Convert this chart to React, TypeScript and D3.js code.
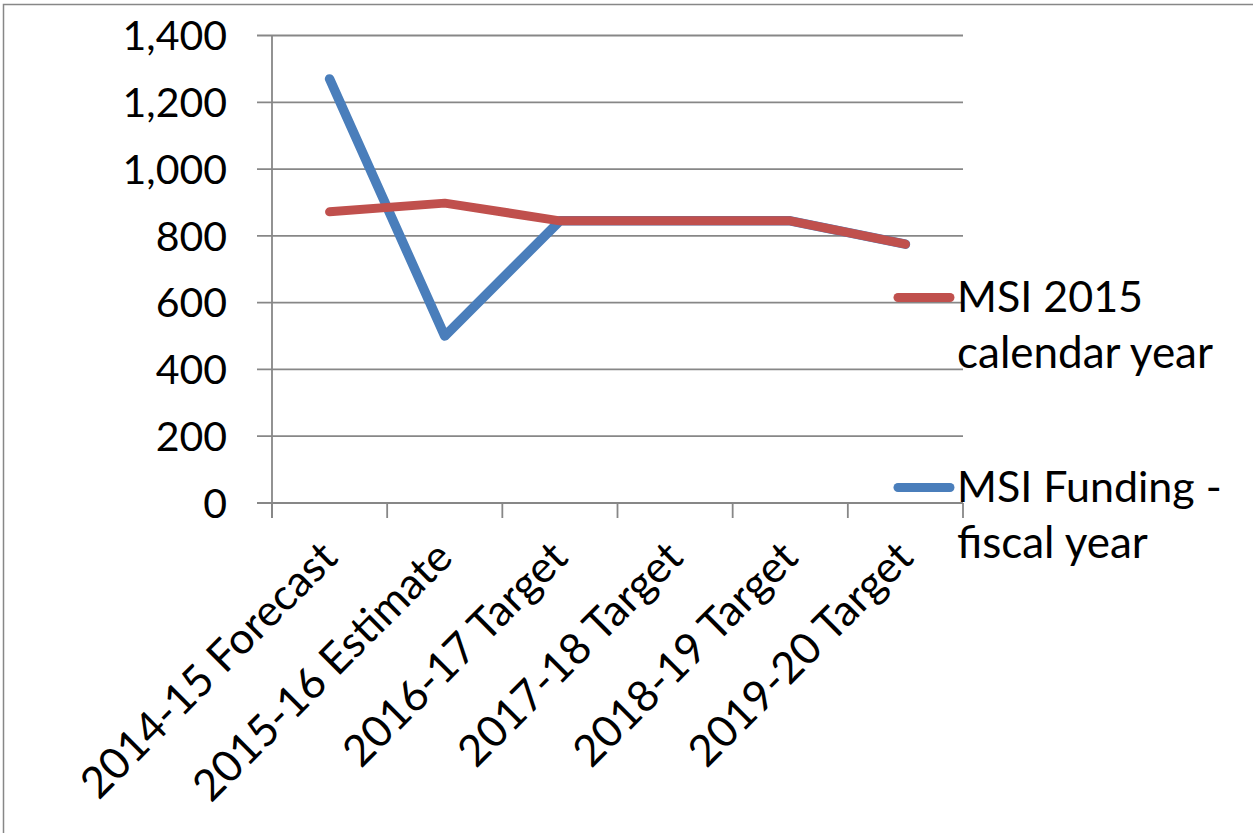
import React from "react";
import * as d3 from "d3";

const categories = [
  "2014-15 Forecast",
  "2015-16 Estimate",
  "2016-17 Target",
  "2017-18 Target",
  "2018-19 Target",
  "2019-20 Target",
];
const msiCalendar = [872, 898, 845, 845, 845, 775];
const msiFiscal = [1270, 500, 845, 845, 845, 775];
const yTicks = [0, 200, 400, 600, 800, 1000, 1200, 1400];
const seriesNames = [
  ["MSI 2015", "calendar year"],
  ["MSI Funding -", "fiscal year"],
];

const W = 1253;
const H = 833;
const FONT = "Lato, 'Open Sans', sans-serif";
const RED = "#C0504D";
const BLUE = "#4A7EBB";
const GRID = "#878787";

export default function App() {
  const x = d3.scaleBand<string>().domain(categories).range([272, 963]);
  const y = d3.scaleLinear().domain([0, 1400]).range([503, 35.5]);
  const cx = (c: string) => (x(c) as number) + x.bandwidth() / 2;

  const line = d3
    .line<number>()
    .x((_, i) => cx(categories[i]))
    .y((v) => y(v));

  const xEdges = categories.map((c) => x(c) as number).concat([963]);

  return (
    <div style={{ position: "fixed", left: 0, top: 0, width: W, height: H, background: "#fff" }}>
      <svg width={W} height={H} style={{ display: "block" }}>
        <rect x={0} y={0} width={W} height={H} fill="#fff" />
        {/* chart border */}
        <path d={`M3.5,${H + 5} V4.5 H${W + 5}`} fill="none" stroke={GRID} strokeWidth={1.5} />
        {/* gridlines */}
        {yTicks.map((t) => (
          <line key={t} x1={257} x2={963} y1={y(t)} y2={y(t)} stroke={GRID} strokeWidth={1.8} />
        ))}
        {/* y axis */}
        <line x1={272} x2={272} y1={y(1400)} y2={518} stroke={GRID} strokeWidth={1.8} />
        {/* x ticks */}
        {xEdges.map((e, i) => (
          <line key={i} x1={e} x2={e} y1={503} y2={518} stroke={GRID} strokeWidth={1.8} />
        ))}
        {/* y labels */}
        {yTicks.map((t) => (
          <text
            key={t}
            x={227}
            y={y(t)}
            dy="0.36em"
            textAnchor="end"
            fontFamily={FONT}
            fontSize={41}
            fill="#000"
          >
            {d3.format(",")(t)}
          </text>
        ))}
        {/* x labels */}
        {categories.map((c) => (
          <text
            key={c}
            transform={`translate(${cx(c) - 1},${549}) rotate(-45)`}
            dy="0.36em"
            textAnchor="end"
            fontFamily={FONT}
            fontSize={43.5}
            fill="#000"
          >
            {c}
          </text>
        ))}
        {/* series */}
        <path d={line(msiFiscal) || ""} fill="none" stroke={BLUE} strokeWidth={9.5} strokeLinecap="round" strokeLinejoin="round" />
        <path d={line(msiCalendar) || ""} fill="none" stroke={RED} strokeWidth={9} strokeLinecap="round" strokeLinejoin="round" />
        {/* legend */}
        {[
          { color: RED, ly: 297.5, ty: 311.7, names: seriesNames[0] },
          { color: BLUE, ly: 487.5, ty: 501.7, names: seriesNames[1] },
        ].map((l, i) => (
          <g key={i}>
            <line x1={898} x2={950} y1={l.ly} y2={l.ly} stroke={l.color} strokeWidth={9} strokeLinecap="round" />
            <text x={957} y={l.ty} fontFamily={FONT} fontSize={43} fill="#000">
              {l.names[0]}
            </text>
            <text x={957} y={l.ty + 56.6} fontFamily={FONT} fontSize={44} fill="#000">
              {l.names[1]}
            </text>
          </g>
        ))}
      </svg>
    </div>
  );
}
